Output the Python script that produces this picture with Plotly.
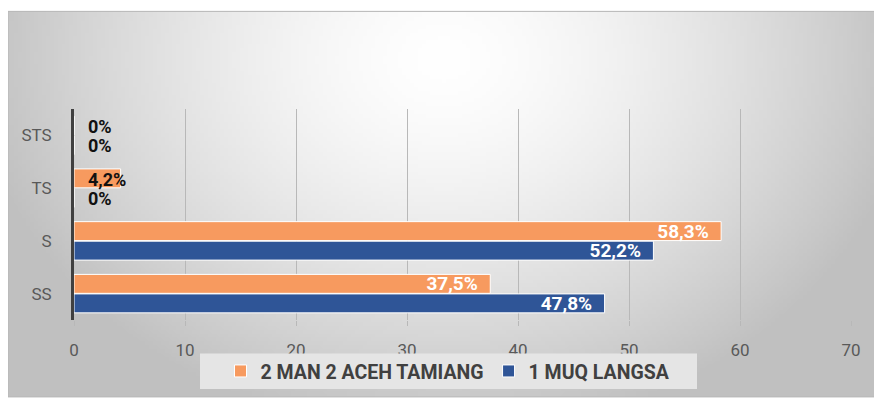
import zlib, struct, base64, math
import plotly.graph_objects as go

# ---- data ----
categories = ["SS", "S", "TS", "STS"]
series_a_name = "2 MAN 2 ACEH TAMIANG"
series_a = [37.5, 58.3, 4.2, 0]
series_b_name = "1 MUQ LANGSA"
series_b = [47.8, 52.2, 0, 0]
x_ticks = [0, 10, 20, 30, 40, 50, 60, 70]

ORANGE = "#F79A5F"
BLUE = "#2F5597"
FONT = "Roboto, Arial, sans-serif"


def fmt(v):
    if float(v).is_integer():
        return f"{int(v)}%"
    return f"{v:.1f}".replace(".", ",") + "%"


def gradient_png(w=220, h=100):
    rows = b""
    for j in range(h):
        y = j / (h - 1)
        row = b"\x00"
        for i in range(w):
            x = i / (w - 1)
            t = math.sqrt(((x - 0.5) / 0.55) ** 2 + ((y - 0.12) / 1.0) ** 2)
            v = int(max(192, min(255, 255 - 64 * (min(t, 1.3) ** 1.5))))
            row += bytes((v, v, v))
        rows += row

    def chunk(tag, data):
        c = struct.pack(">I", len(data)) + tag + data
        return c + struct.pack(">I", zlib.crc32(tag + data) & 0xffffffff)

    png = b"\x89PNG\r\n\x1a\n"
    png += chunk(b"IHDR", struct.pack(">IIBBBBB", w, h, 8, 2, 0, 0, 0))
    png += chunk(b"IDAT", zlib.compress(rows, 9))
    png += chunk(b"IEND", b"")
    return "data:image/png;base64," + base64.b64encode(png).decode()


OFF = 8  # page body margin
W, H = 882 - OFF, 403 - OFF
L, R, T, B = 74 - OFF, 31, 109 - OFF, 80
pw, ph = W - L - R, H - T - B


def px_x(p):  # reference page x -> paper
    return (p - OFF - L) / pw


def px_y(p):  # reference page y -> paper
    return (H - B - (p - OFF)) / ph


fig = go.Figure()
fig.add_trace(go.Bar(
    y=categories, x=series_b, name=series_b_name, orientation="h",
    marker=dict(color=BLUE, line=dict(color="white", width=1)),
    text=[fmt(v) + "\u00a0\u00a0" for v in series_b],
    textposition=["inside" if v >= 10 else "none" for v in series_b],
    insidetextanchor="end", constraintext="none",
    textfont=dict(color="white", size=19, family=FONT, weight="bold"),
))
fig.add_trace(go.Bar(
    y=categories, x=series_a, name=series_a_name, orientation="h",
    marker=dict(color=ORANGE, line=dict(color="white", width=1)),
    text=[fmt(v) + "\u00a0\u00a0" for v in series_a],
    textposition=["inside" if v >= 10 else "none" for v in series_a],
    insidetextanchor="end", constraintext="none",
    textfont=dict(color="white", size=19, family=FONT, weight="bold"),
))

annotations = []
for cat, va, vb in zip(categories, series_a, series_b):
    for v, shift in ((va, 9), (vb, -10)):
        if v < 10:
            annotations.append(dict(
                x=0, y=cat, xref="x", yref="y", text=fmt(v), showarrow=False,
                xanchor="left", yanchor="middle", xshift=12, yshift=shift,
                font=dict(color="#111111", size=18, family=FONT, weight="bold"),
            ))

fig.update_layout(
    width=W, height=H,
    margin=dict(l=L, r=R, t=T, b=B, pad=0),
    paper_bgcolor="white",
    plot_bgcolor="rgba(0,0,0,0)",
    barmode="group", bargap=0.26, bargroupgap=0.03,
    font=dict(family=FONT, color="#595959", size=16),
    showlegend=True,
    legend=dict(
        orientation="h", traceorder="reversed",
        x=px_x(448), xanchor="center", y=px_y(375), yanchor="middle",
        bgcolor="rgba(0,0,0,0)",
        font=dict(size=19.5, color="#404040", family=FONT, weight="bold"),
        itemwidth=30,
    ),
    annotations=annotations,
    images=[dict(
        source=gradient_png(), xref="paper", yref="paper",
        x=px_x(OFF), y=px_y(10), sizex=px_x(880) - px_x(OFF), sizey=px_y(10) - px_y(401),
        xanchor="left", yanchor="top", sizing="stretch", layer="below",
    )],
    shapes=[
        dict(
            type="rect", xref="paper", yref="paper",
            x0=px_x(OFF), x1=px_x(880), y0=px_y(401), y1=px_y(10),
            line=dict(color="#b5b5b5", width=1), fillcolor="rgba(0,0,0,0)", layer="below",
        ),
        dict(
            type="rect", xref="paper", yref="paper",
            x0=px_x(200), x1=px_x(697), y0=px_y(393), y1=px_y(357),
            line=dict(width=0), fillcolor="#e5e5e5", layer="above",
        ),
    ],
)
fig.update_xaxes(
    range=[0, 70], tickvals=x_ticks, showgrid=True, gridcolor="#b8b8b8", gridwidth=1,
    zeroline=False, showline=False, ticks="outside", ticklen=5, tickcolor="#b8b8b8",
    ticklabelstandoff=10, tickfont=dict(size=17, color="#595959"), fixedrange=True,
)
fig.update_yaxes(
    categoryorder="array", categoryarray=categories, showgrid=False,
    showline=True, linecolor="#404040", linewidth=3, ticks="",
    ticklabelstandoff=16, tickfont=dict(size=17, color="#595959"), fixedrange=True,
)
fig.write_html("out.html")
